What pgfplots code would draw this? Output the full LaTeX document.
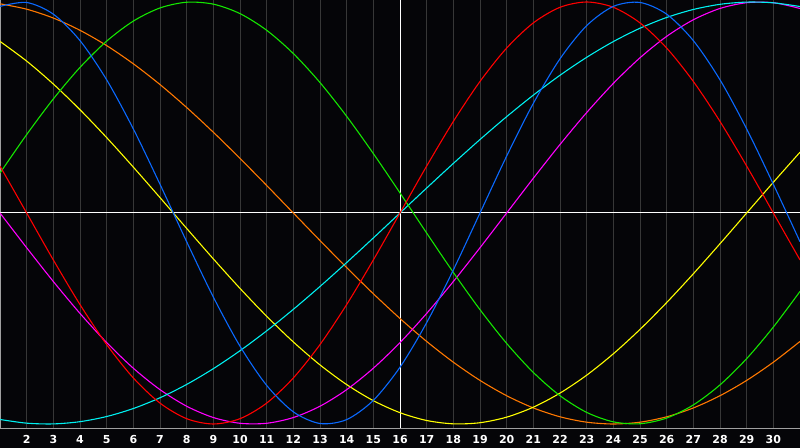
\documentclass[border=0pt]{standalone}
\usepackage{fontspec}
\setmainfont{DejaVu Sans}
\usepackage{pgfplots}
\usepackage{pgfplotstable}
\pgfplotsset{compat=1.18}

\definecolor{bg}{RGB}{5,5,8}
\definecolor{gridc}{RGB}{55,55,55}
\definecolor{framec}{RGB}{160,160,160}
\definecolor{cblue}{RGB}{10,105,255}
\definecolor{cred}{RGB}{255,0,0}
\definecolor{cgreen}{RGB}{20,230,0}
\definecolor{cmag}{RGB}{255,0,255}
\definecolor{cyel}{RGB}{255,255,0}
\definecolor{corange}{RGB}{255,120,0}
\definecolor{ccyan}{RGB}{0,240,240}

% day  23d  28d  33d  38d  43d  48d  53d
\pgfplotstableread{
x  blue    red     green   magenta yellow  orange  cyan
1  0.9791  0.2225  0.1893  0.0000  0.8133  0.9914 -0.9786
2  0.9977  0.0000  0.3717 -0.1646  0.7199  0.9659 -0.9961
3  0.9423 -0.2225  0.5406 -0.3247  0.6112  0.9239 -0.9996
4  0.8170 -0.4339  0.6901 -0.4759  0.4894  0.8660 -0.9890
5  0.6311 -0.6235  0.8146 -0.6142  0.3573  0.7934 -0.9646
6  0.3984 -0.7818  0.9096 -0.7357  0.2174  0.7071 -0.9267
7  0.1362 -0.9010  0.9718 -0.8372  0.0730  0.6088 -0.8757
8 -0.1362 -0.9749  0.9989 -0.9158 -0.0730  0.5000 -0.8125
9 -0.3984 -1.0000  0.9898 -0.9694 -0.2174  0.3827 -0.7378
10 -0.6311 -0.9749  0.9450 -0.9966 -0.3573  0.2588 -0.6528
11 -0.8170 -0.9010  0.8660 -0.9966 -0.4894  0.1305 -0.5586
12 -0.9423 -0.7818  0.7557 -0.9694 -0.6112  0.0000 -0.4566
13 -0.9977 -0.6235  0.6182 -0.9158 -0.7199 -0.1305 -0.3482
14 -0.9791 -0.4339  0.4582 -0.8372 -0.8133 -0.2588 -0.2349
15 -0.8879 -0.2225  0.2817 -0.7357 -0.8894 -0.3827 -0.1183
16 -0.7308  0.0000  0.0951 -0.6142 -0.9464 -0.5000  0.0000
17 -0.5196  0.2225 -0.0951 -0.4759 -0.9834 -0.6088  0.1183
18 -0.2698  0.4339 -0.2817 -0.3247 -0.9993 -0.7071  0.2349
19  0.0000  0.6235 -0.4582 -0.1646 -0.9940 -0.7934  0.3482
20  0.2698  0.7818 -0.6182  0.0000 -0.9675 -0.8660  0.4566
21  0.5196  0.9010 -0.7557  0.1646 -0.9203 -0.9239  0.5586
22  0.7308  0.9749 -0.8660  0.3247 -0.8536 -0.9659  0.6528
23  0.8879  1.0000 -0.9450  0.4759 -0.7687 -0.9914  0.7378
24  0.9791  0.9749 -0.9898  0.6142 -0.6673 -1.0000  0.8125
25  0.9977  0.9010 -0.9989  0.7357 -0.5517 -0.9914  0.8757
26  0.9423  0.7818 -0.9718  0.8372 -0.4244 -0.9659  0.9267
27  0.8170  0.6235 -0.9096  0.9158 -0.2881 -0.9239  0.9646
28  0.6311  0.4339 -0.8146  0.9694 -0.1456 -0.8660  0.9890
29  0.3984  0.2225 -0.6901  0.9966  0.0000 -0.7934  0.9996
30  0.1362  0.0000 -0.5406  0.9966  0.1456 -0.7071  0.9961
31 -0.1362 -0.2225 -0.3717  0.9694  0.2881 -0.6088  0.9786
}\biodata

\begin{document}
\begin{tikzpicture}
  \fill[bg] (0,-20bp) rectangle (800bp,428bp);
  \begin{axis}[
      at={(0,0)}, anchor=south west,
      scale only axis,
      width=800bp, height=428bp,
      xmin=1, xmax=31,
      ymin=-1.019, ymax=1.0095,
      axis background/.style={fill=bg},
      axis line style={framec, line width=1bp},
      xtick={2,3,4,5,6,7,8,9,10,11,12,13,14,15,17,18,19,20,21,22,23,24,25,26,27,28,29,30},
      ytick=\empty,
      major tick length=0pt,
      xmajorgrids=true,
      major grid style={gridc, line width=1bp},
      extra x ticks={16},
      extra x tick style={major grid style={white, line width=1bp}},
      extra y ticks={0},
      extra y tick labels={},
      extra y tick style={grid=major, major grid style={white, line width=1bp}},
      xticklabel style={text=white, font=\bfseries\fontsize{11bp}{11bp}\selectfont,
        anchor=base, inner sep=0pt, yshift=-15bp},
      /pgf/number format/assume math mode=true,
      every axis plot/.append style={line width=1.1bp, smooth, mark=none},
    ]
    \addplot[corange] table[x=x, y=orange] {\biodata};
    \addplot[cyel]    table[x=x, y=yellow] {\biodata};
    \addplot[cmag]    table[x=x, y=magenta] {\biodata};
    \addplot[ccyan]   table[x=x, y=cyan] {\biodata};
    \addplot[cgreen]  table[x=x, y=green] {\biodata};
    \addplot[cred]    table[x=x, y=red] {\biodata};
    \addplot[cblue]   table[x=x, y=blue] {\biodata};
  \end{axis}
  \pgfresetboundingbox
  \useasboundingbox (0,-20bp) rectangle (800bp,428bp);
\end{tikzpicture}
\end{document}
